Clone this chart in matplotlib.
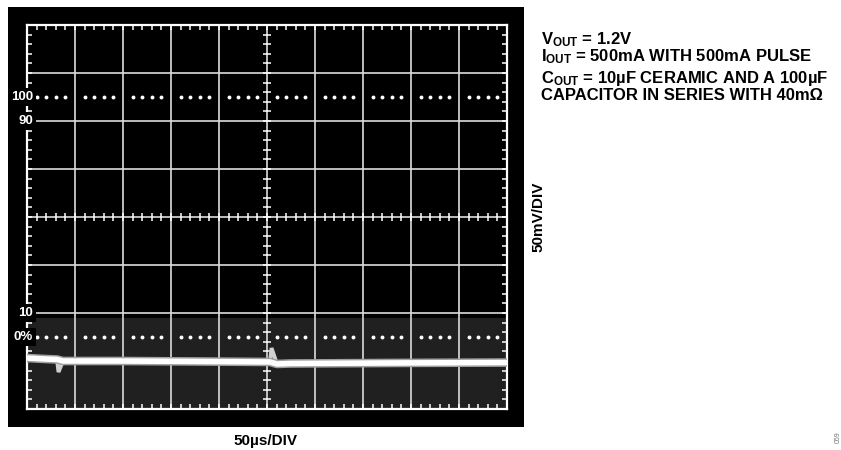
import numpy as np
import matplotlib
matplotlib.use("Agg")
import matplotlib.pyplot as plt
from matplotlib.patches import Rectangle

plt.rcParams['font.family'] = ['Liberation Sans', 'DejaVu Sans']
plt.rcParams['mathtext.fontset'] = 'custom'
plt.rcParams['mathtext.rm'] = 'Liberation Sans:bold'
plt.rcParams['mathtext.bf'] = 'Liberation Sans:bold'
plt.rcParams['mathtext.it'] = 'Liberation Sans:bold'

# scope trace: time in us, voltage in mV (0 = screen centre)
trace_t = [0, 18.8, 31.3, 32.8, 37.5, 96.9, 180.2, 253.1, 254.7, 260.4, 274.0, 388.5, 500]
trace_v = [-146.9, -147.9, -148.4, -161.5, -150.0, -150.0, -150.5, -151.0, -136.5, -153.1, -152.6, -152.0, -151.6]
glitch_idx = [3, 8]   # points at the load steps

# percentage markers on the left edge (mV from centre)
marker_labels = ['100', '90', '10', '0%']
marker_levels = [125, 100, -100, -125]
dot_rows = [125, -125]

t_div = 50      # us per division
v_div = 50      # mV per division
n_tdiv = 10
n_vdiv = 8

notes = [r'V$_{\mathrm{OUT}}$ = 1.2V',
         r'I$_{\mathrm{OUT}}$ = 500mA WITH 500mA PULSE',
         r'C$_{\mathrm{OUT}}$ = 10µF CERAMIC AND A 100µF',
         'CAPACITOR IN SERIES WITH 40mΩ']
notes_y = [44, 61, 83, 100]

W, H = 841, 450
fig = plt.figure(figsize=(W / 100, H / 100), dpi=100)
fig.patch.set_facecolor('white')

# black screen behind the graticule
fig.patches.append(Rectangle((8 / W, 1 - 427 / H), 516 / W, 420 / H,
                             transform=fig.transFigure, facecolor='black',
                             edgecolor='none', zorder=0))

ax = fig.add_axes([27 / W, 1 - 409 / H, 480 / W, 384 / H])
ax.set_zorder(2)
ax.set_facecolor('black')
tmax = t_div * n_tdiv
vmax = v_div * n_vdiv / 2
ax.set_xlim(0, tmax)
ax.set_ylim(-vmax, vmax)

# dim band at the bottom of the screen
ax.axhspan(-vmax, -105, color='#202020', zorder=0.5, lw=0)

gcol = '#dcdcdc'
for k in range(1, n_tdiv):
    ax.axvline(k * t_div, color=gcol, lw=1.2, zorder=1)
for k in range(1, n_vdiv):
    ax.axhline(-vmax + k * v_div, color=gcol, lw=1.2, zorder=1)

for s in ax.spines.values():
    s.set_color('white')
    s.set_linewidth(1.6)

ax.set_xticks(np.arange(0, tmax + 1, t_div))
ax.set_yticks(np.arange(-vmax, vmax + 1, v_div))
ax.set_xticks(np.arange(0, tmax + 1, t_div / 5), minor=True)
ax.set_yticks(np.arange(-vmax, vmax + 1, v_div / 5), minor=True)
ax.tick_params(which='both', direction='in', length=3.5, width=1.1, color='white',
               top=True, right=True, labelbottom=False, labelleft=False)

# ticks across the centre lines
minor_t = np.arange(0, tmax + 1, t_div / 5)
minor_v = np.arange(-vmax, vmax + 1, v_div / 5)
ax.plot(minor_t, np.zeros_like(minor_t), ls='none', marker='|', ms=6, mew=1.1,
        color='white', zorder=2)
ax.plot(np.full_like(minor_v, tmax / 2), minor_v, ls='none', marker='_', ms=6,
        mew=1.1, color='white', zorder=2)

# dotted reference rows
dot_t = [t for t in minor_t if t % t_div != 0]
for lvl in dot_rows:
    ax.plot(dot_t, [lvl] * len(dot_t), ls='none', marker='o', ms=2.8,
            color='white', mec='none', zorder=2)

# trace: thick along the settled level, thin through the glitches
level_t = [t for i, t in enumerate(trace_t) if i not in glitch_idx]
level_v = [v for i, v in enumerate(trace_v) if i not in glitch_idx]
ax.plot(trace_t, trace_v, color='#d0d0d0', lw=2.8, zorder=3, solid_joinstyle='miter')
ax.plot(level_t, level_v, color='#a0a0a0', lw=6.2, zorder=3.1, solid_capstyle='butt')
ax.plot(level_t, level_v, color='white', lw=4.0, zorder=3.2, solid_capstyle='butt')

# percentage labels
for lab, lvl in zip(marker_labels, marker_levels):
    ax.text(6.5, lvl, lab, ha='right', va='center', fontsize=9.5, fontweight='bold',
            color='white', zorder=4, clip_on=False,
            bbox=dict(boxstyle='square,pad=0.2', fc='black', ec='none'))

fig.text(265 / W, 1 - 441 / H, '50µs/DIV', ha='center', va='center',
         fontsize=11, fontweight='bold')
fig.text(538 / W, 1 - 217 / H, '50mV/DIV', ha='center', va='center',
         rotation=90, fontsize=11, fontweight='bold')
for txt, yb in zip(notes, notes_y):
    fig.text(541 / W, 1 - yb / H, txt, ha='left', va='baseline',
             fontsize=12, fontweight='bold')
fig.text(838 / W, 1 - 437 / H, '059', ha='center', va='center', rotation=90,
         fontsize=5, color='#777777')

fig.savefig('out.png', dpi=100)
